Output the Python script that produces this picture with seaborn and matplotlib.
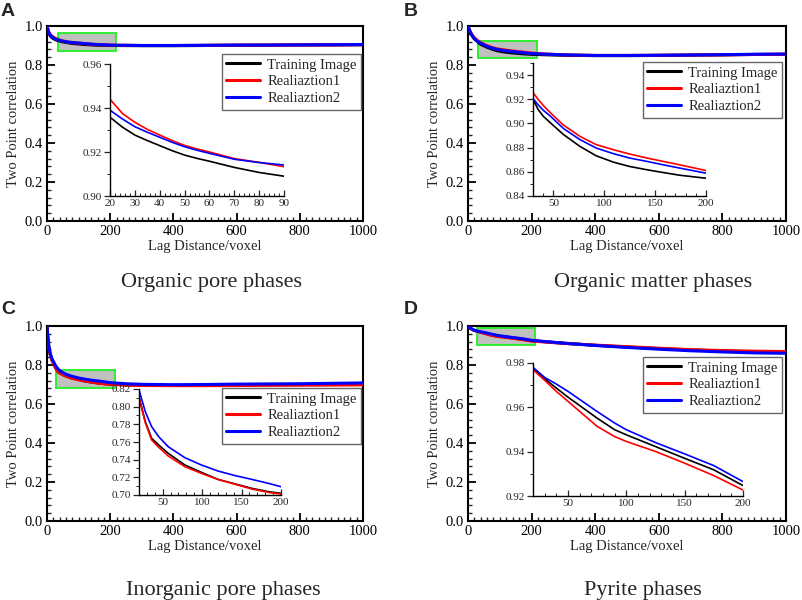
import numpy as np
import pandas as pd
import matplotlib
matplotlib.use("Agg")
import matplotlib.pyplot as plt
from matplotlib.patches import Rectangle
from matplotlib.ticker import MultipleLocator, FormatStrFormatter
import seaborn as sns

# ---------------- data ----------------
series_names = ["Training Image", "Realiaztion1", "Realiaztion2"]
series_colors = ["#000000", "#ff0000", "#0000ff"]

lag_A = [0, 2, 5, 10, 15, 20, 25, 30, 35, 40, 45, 50, 55, 60, 70, 80, 90, 120, 150, 200, 300, 400, 500, 600, 700, 800, 900, 1000]
ti_A = [1.0, 0.985, 0.967, 0.950, 0.941, 0.9358, 0.9313, 0.9277, 0.9252, 0.9229, 0.9206, 0.9186, 0.9171, 0.9158, 0.913, 0.9107, 0.909, 0.905, 0.902, 0.900, 0.899, 0.899, 0.900, 0.901, 0.902, 0.903, 0.903, 0.904]
r1_A = [1.0, 0.988, 0.972, 0.957, 0.949, 0.944, 0.9375, 0.9335, 0.9303, 0.9277, 0.9252, 0.923, 0.9214, 0.920, 0.917, 0.9153, 0.9133, 0.909, 0.905, 0.902, 0.900, 0.900, 0.901, 0.902, 0.902, 0.903, 0.903, 0.904]
r2_A = [1.0, 0.986, 0.969, 0.953, 0.944, 0.939, 0.935, 0.9315, 0.929, 0.9267, 0.9244, 0.9224, 0.9208, 0.9194, 0.9167, 0.9152, 0.9141, 0.910, 0.906, 0.902, 0.900, 0.900, 0.901, 0.902, 0.902, 0.903, 0.904, 0.905]

lag_B = [0, 3, 6, 10, 15, 20, 30, 35, 40, 47, 60, 76, 92, 109, 125, 142, 158, 174, 200, 250, 300, 400, 500, 600, 700, 800, 900, 1000]
ti_B = [1.0, 0.985, 0.972, 0.958, 0.945, 0.934, 0.920, 0.9117, 0.906, 0.9006, 0.8908, 0.8811, 0.8733, 0.868, 0.8644, 0.8617, 0.8594, 0.8572, 0.8547, 0.852, 0.850, 0.848, 0.848, 0.849, 0.851, 0.852, 0.854, 0.855]
r1_B = [1.0, 0.987, 0.975, 0.962, 0.950, 0.940, 0.9256, 0.920, 0.915, 0.9089, 0.8986, 0.8894, 0.8825, 0.8783, 0.8747, 0.8714, 0.8686, 0.8658, 0.8611, 0.856, 0.852, 0.849, 0.849, 0.850, 0.851, 0.852, 0.854, 0.855]
r2_B = [1.0, 0.986, 0.973, 0.960, 0.946, 0.935, 0.9206, 0.9155, 0.911, 0.9061, 0.8958, 0.8867, 0.8797, 0.875, 0.8714, 0.8686, 0.8658, 0.8631, 0.8589, 0.855, 0.852, 0.849, 0.849, 0.850, 0.851, 0.853, 0.855, 0.856]

lag_C = [0, 2, 5, 10, 15, 20, 28, 36, 45, 57, 78, 99, 120, 142, 163, 184, 200, 250, 300, 400, 500, 600, 700, 800, 900, 1000]
ti_C = [1.0, 0.95, 0.90, 0.855, 0.828, 0.8113, 0.783, 0.7642, 0.7566, 0.7472, 0.734, 0.7257, 0.7177, 0.7125, 0.7075, 0.7038, 0.7019, 0.698, 0.696, 0.695, 0.696, 0.697, 0.698, 0.699, 0.700, 0.701]
r1_C = [1.0, 0.95, 0.90, 0.853, 0.826, 0.810, 0.7819, 0.7623, 0.754, 0.7442, 0.7321, 0.7245, 0.7177, 0.7121, 0.7068, 0.703, 0.7011, 0.697, 0.695, 0.694, 0.694, 0.695, 0.696, 0.697, 0.697, 0.698]
r2_C = [1.0, 0.955, 0.905, 0.86, 0.835, 0.8189, 0.7943, 0.7774, 0.766, 0.7547, 0.7423, 0.734, 0.7272, 0.7219, 0.7177, 0.7132, 0.7094, 0.704, 0.701, 0.699, 0.700, 0.702, 0.703, 0.704, 0.706, 0.708]

lag_D = [0, 5, 10, 20, 30, 40, 50, 75, 90, 100, 125, 150, 175, 200, 300, 400, 500, 600, 700, 800, 900, 1000]
ti_D = [1.0, 0.992, 0.986, 0.9777, 0.9729, 0.9687, 0.9646, 0.9551, 0.9499, 0.9476, 0.9423, 0.937, 0.9318, 0.9247, 0.912, 0.901, 0.892, 0.884, 0.877, 0.872, 0.868, 0.866]
r1_D = [1.0, 0.992, 0.985, 0.977, 0.9722, 0.9672, 0.9627, 0.9514, 0.9468, 0.9446, 0.9401, 0.9348, 0.9292, 0.9227, 0.911, 0.902, 0.894, 0.886, 0.879, 0.874, 0.871, 0.869]
r2_D = [1.0, 0.992, 0.986, 0.978, 0.9735, 0.9705, 0.9672, 0.9581, 0.9529, 0.9499, 0.9441, 0.939, 0.9337, 0.9265, 0.912, 0.900, 0.890, 0.881, 0.873, 0.867, 0.862, 0.860]

panel_letters = ["A", "B", "C", "D"]
panel_titles = ["Organic pore phases", "Organic matter phases", "Inorganic pore phases", "Pyrite phases"]

# inset ranges and ticks
inset_xlim = [(20, 90), (30, 200), (20, 200), (20, 200)]
inset_ylim = [(0.90, 0.96), (0.84, 0.95), (0.70, 0.82), (0.92, 0.98)]
inset_xmajor = [10, 50, 50, 50]
inset_xminor = [2, 10, 10, 10]
inset_ymajor = [0.02, 0.02, 0.02, 0.02]
# zoom-box extents (x0, x1, y0, y1)
zoom_boxes = [(35, 218, 0.872, 0.964), (31, 217, 0.836, 0.923),
              (28, 215, 0.682, 0.774), (28, 211, 0.900, 0.990)]

# ---------------- layout (figure fractions) ----------------
W, H = 803, 600
main_px = [(47, 26, 363, 221), (468, 26, 786, 221), (47, 326, 363, 521), (468, 326, 786, 521)]
inset_px = [(110, 64, 284, 196), (533, 63, 706, 196), (139, 389, 281, 495), (533, 363, 743, 496)]
legend_px = [(361, 54), (782, 62), (361, 388), (782, 357)]
title_px = [(212, 283), (653, 283), (223, 590), (643, 590)]
letter_px = [(1, 3), (404, 3), (1, 301), (404, 301)]


def rect(px):
    x0, y0, x1, y1 = px
    return [x0 / W, 1 - y1 / H, (x1 - x0) / W, (y1 - y0) / H]


sns.set_theme(style="ticks")
plt.rcParams["font.family"] = ["Liberation Serif", "DejaVu Serif"]
plt.rcParams["mathtext.fontset"] = "stix"

fig = plt.figure(figsize=(W / 100, H / 100), dpi=100)
fig.patch.set_facecolor("white")

panels = [(lag_A, ti_A, r1_A, r2_A), (lag_B, ti_B, r1_B, r2_B),
          (lag_C, ti_C, r1_C, r2_C), (lag_D, ti_D, r1_D, r2_D)]

palette = dict(zip(series_names, series_colors))

for i, (lag, ti, r1, r2) in enumerate(panels):
    df = pd.DataFrame({
        "lag": lag * 3,
        "value": ti + r1 + r2,
        "series": [series_names[0]] * len(lag) + [series_names[1]] * len(lag) + [series_names[2]] * len(lag),
    })

    ax = fig.add_axes(rect(main_px[i]))
    ax.set_facecolor("white")
    sns.lineplot(data=df, x="lag", y="value", hue="series", palette=palette,
                 hue_order=series_names, linewidth=2.2, legend=False, ax=ax, zorder=3)
    ax.set_xlim(0, 1000)
    ax.set_ylim(0, 1.0)
    ax.xaxis.set_major_locator(MultipleLocator(200))
    ax.xaxis.set_minor_locator(MultipleLocator(20))
    ax.yaxis.set_major_locator(MultipleLocator(0.2))
    ax.yaxis.set_minor_locator(MultipleLocator(0.04))
    ax.yaxis.set_major_formatter(FormatStrFormatter("%.1f"))
    ax.tick_params(axis="both", which="major", direction="in", length=6, width=1.3,
                   labelsize=10.5, pad=3, colors="black")
    ax.tick_params(axis="both", which="minor", direction="in", length=3, width=1.0)
    ax.tick_params(top=False, right=False)
    for s in ax.spines.values():
        s.set_linewidth(1.5)
        s.set_color("black")
        s.set_visible(True)
    ax.set_xlabel("Lag Distance/voxel", fontsize=10.5, labelpad=1)
    ax.set_ylabel("Two Point correlation", fontsize=10.5, labelpad=3)

    bx0, bx1, by0, by1 = zoom_boxes[i]
    ax.add_patch(Rectangle((bx0, by0), bx1 - bx0, by1 - by0, facecolor="#c0c0c0",
                           edgecolor="#22ee22", linewidth=1.3, zorder=2))

    # inset
    ins = fig.add_axes(rect(inset_px[i]))
    ins.set_facecolor("white")
    ins.patch.set_alpha(0.0)
    sns.lineplot(data=df, x="lag", y="value", hue="series", palette=palette,
                 hue_order=series_names, linewidth=1.2, legend=False, ax=ins)
    ins.set_xlim(*inset_xlim[i])
    ins.set_ylim(*inset_ylim[i])
    ins.xaxis.set_major_locator(MultipleLocator(inset_xmajor[i]))
    ins.xaxis.set_minor_locator(MultipleLocator(inset_xminor[i]))
    ins.yaxis.set_major_locator(MultipleLocator(inset_ymajor[i]))
    ins.yaxis.set_minor_locator(MultipleLocator(inset_ymajor[i] / 2))
    ins.yaxis.set_major_formatter(FormatStrFormatter("%.2f"))
    ins.tick_params(axis="x", which="major", direction="in", length=4, width=0.9, labelsize=8, pad=2)
    ins.tick_params(axis="x", which="minor", direction="in", length=2, width=0.7)
    ins.tick_params(axis="y", which="major", direction="out", length=4, width=0.9, labelsize=8, pad=2)
    ins.tick_params(axis="y", which="minor", direction="out", length=2, width=0.7)
    ins.spines["top"].set_visible(False)
    ins.spines["right"].set_visible(False)
    for s in ["left", "bottom"]:
        ins.spines[s].set_linewidth(1.0)
        ins.spines[s].set_color("black")
    ins.set_xlabel("")
    ins.set_ylabel("")

    handles = [plt.Line2D([], [], color=c, linewidth=2.2) for c in series_colors]
    lx, ly = legend_px[i]
    leg = ins.legend(handles, series_names, loc="upper right",
                     bbox_to_anchor=(lx / W, 1 - ly / H), bbox_transform=fig.transFigure,
                     fontsize=10.5, frameon=True, fancybox=False, framealpha=1,
                     edgecolor="#666666", borderpad=0.3, labelspacing=0.25,
                     handlelength=2.3, handletextpad=0.5, borderaxespad=0)
    leg.get_frame().set_linewidth(1.0)
    leg.set_zorder(10)

    tx, ty = title_px[i]
    fig.text(tx / W, 1 - ty / H, panel_titles[i], ha="center", va="center", fontsize=16)
    lx2, ly2 = letter_px[i]
    fig.text(lx2 / W, 1 - ly2 / H, panel_letters[i], ha="left", va="top", fontsize=14,
             fontweight="bold", family=["Liberation Sans", "DejaVu Sans"])

fig.savefig("out.png", dpi=100, facecolor="white")
